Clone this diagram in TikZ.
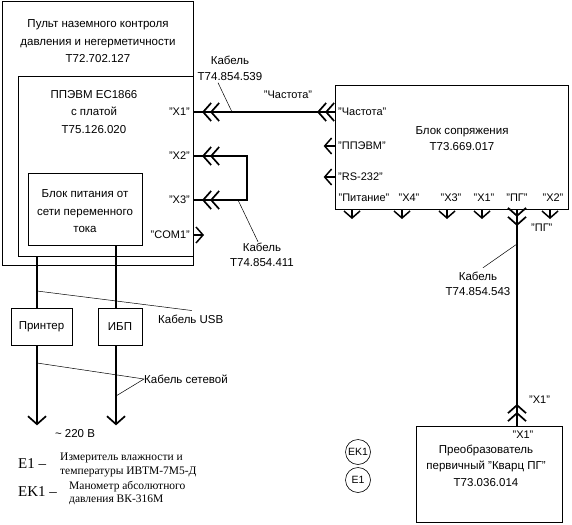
\documentclass[tikz,border=0pt]{standalone}
\usepackage{fontspec}
\setmainfont{Liberation Sans}
\newfontfamily\serifleg{Liberation Serif}
\usetikzlibrary{arrows.meta,positioning,calc,decorations.markings}
\tikzset{
  blok/.style={rectangle, draw=black, line width=0.7pt, inner sep=0pt},
  boxt/.style={align=center, font=\fontsize{11.5}{17.5}\selectfont, inner sep=0pt},
  cabt/.style={align=center, font=\fontsize{11.5}{15.5}\selectfont, inner sep=0pt},
  pinl/.style={font=\fontsize{11}{12}\selectfont, inner sep=1pt},
  cab/.style={line width=1.7pt},
  pinarr/.style={-{Straight Barb[length=7pt,width=16pt,line width=1.5pt]}, line width=1.5pt},
  lead/.style={line width=0.5pt},
  bk/.style={postaction={decorate,decoration={markings,mark=at position #1 with {\arrowreversed{>}}}}},
  fw/.style={postaction={decorate,decoration={markings,mark=at position #1 with {\arrow{>}}}}},
  legE/.style={font=\serifleg\fontsize{15}{16}\selectfont, inner sep=0pt, anchor=west},
  legT/.style={font=\serifleg\fontsize{11.5}{13.5}\selectfont, align=left, inner sep=0pt, anchor=west},
  ring/.style={circle, draw=black, line width=0.6pt, minimum size=25pt, inner sep=0pt, font=\fontsize{10.5}{12}\selectfont},
}

\begin{document}
\begin{tikzpicture}[x=1pt, y=-1pt, >={Straight Barb[length=8pt,width=18pt,line width=1.7pt]}]
\useasboundingbox (0,0) rectangle (572,524);

% boxes
\node[blok, minimum width=191pt, minimum height=264pt] (pult) at (97.5,133) {};
\node[blok, minimum width=175pt, minimum height=180pt] (pc) at (105.5,166) {};
\node[blok, minimum width=114pt, minimum height=72pt] (pwr) at (85,209) {};
\node[blok, minimum width=61pt, minimum height=37pt] (prn) at (41.5,326.5) {};
\node[blok, minimum width=44pt, minimum height=37pt] (ibp) at (120,326.5) {};
\node[blok, minimum width=233pt, minimum height=124pt] (bs) at (451.5,147) {};
\node[blok, minimum width=146pt, minimum height=96pt] (pp) at (489,474) {};

% box texts
\node[boxt] (pultT) at (98,41.5) {Пульт наземного контроля\\давления и негерметичности\\Т72.702.127};
\node[boxt] (pcT) at (94,112) {ППЭВМ ЕС1866\\с платой\\Т75.126.020};
\node[boxt] (pwrT) at (85,211.5) {Блок питания от\\сети переменного\\тока};
\node[boxt] (prnT) at (prn) {Принтер};
\node[boxt] (ibpT) at (ibp) {ИБП};
\node[cabt, font=\fontsize{11.5}{16}\selectfont] (bsT) at (462,139) {Блок сопряжения\\Т73.669.017};
\node[cabt, font=\fontsize{11.5}{16.5}\selectfont] (ppT) at (486,465.5) {Преобразователь\\первичный "Кварц ПГ"\\Т73.036.014};

% pins of the computer
\node[pinl, anchor=east] (pX1) at (191,112) {"Х1"};
\node[pinl, anchor=east] (pX2) at (191,156) {"Х2"};
\node[pinl, anchor=east] (pX3) at (191,200) {"Х3"};
\node[pinl, anchor=east] (pCOM) at (191,235) {"COM1"};

% pins of the interface block
\node[pinl, anchor=west] (bFr) at (337,112) {"Частота"};
\node[pinl, anchor=west] (bPc) at (337,146) {"ППЭВМ"};
\node[pinl, anchor=west] (bRs) at (337,177) {"RS-232"};
\node[pinl] (bPit) at (364,198) {"Питание"};
\node[pinl] (bX4) at (409,198) {"Х4"};
\node[pinl] (bX3) at (451,198) {"Х3"};
\node[pinl] (bX1) at (484,198) {"Х1"};
\node[pinl] (bPG) at (517,198) {"ПГ"};
\node[pinl] (bX2) at (553,198) {"Х2"};

% pins of the transducer
\node[pinl] (tX1in) at (523,435) {"Х1"};
\node[pinl, anchor=west] (tX1out) at (528,400) {"Х1"};
\node[pinl, anchor=west] (cPG) at (530,228) {"ПГ"};

% connection points
\coordinate (x1a) at (193,112);
\coordinate (x1b) at (335,112);
\coordinate (x2a) at (193,156);
\coordinate (x3a) at (193,200);
\coordinate (com) at (193,235);
\coordinate (pgA) at (517,209);
\coordinate (pgB) at (517,426);
\coordinate (usbA) at (37,256);
\coordinate (pwA) at (116,245);

% cables
\draw[cab, bk=9pt, bk=17pt, bk=-10pt, bk=-18pt] (x1a) -- (x1b);
\draw[cab, bk=9pt, bk=17pt, fw=-9pt, fw=-17pt] (x2a) -- ++(54,0) |- (x3a);
\draw[cab, fw=8pt, fw=17pt, bk=-14pt, bk=-22pt] (pgA) -- (pgB);
\draw[pinarr] (com) -- ++(11,0);
\draw[pinarr] (bs.west |- bPc) -- ++(-11,0);
\draw[pinarr] (bs.west |- bRs) -- ++(-11,0);
\foreach \px in {352,402,447,482,550}
  \draw[pinarr] (\px,209) -- ++(0,10);

% peripherals
\draw[cab] (usbA) -- (usbA |- prn.north);
\draw[cab] (pwA) -- (pwA |- ibp.north);
\draw[cab, ->] (usbA |- prn.south) -- ++(0,80);
\draw[cab, ->] (pwA |- ibp.south) -- ++(0,80);
\node[pinl, font=\fontsize{11.5}{12}\selectfont] (v220) at (75,434) {\char"7E\ 220 В};

% cable labels
\node[pinl] (frq) at (288,95) {"Частота"};
\node[cabt] (kab1) at (230,68.5) {Кабель\\Т74.854.539};
\node[cabt] (kab2) at (262,255) {Кабель\\Т74.854.411};
\node[cabt] (kab3) at (478,284) {Кабель\\Т74.854.543};
\node[cabt, anchor=west] (usbL) at (158,319) {Кабель USB};
\node[cabt, anchor=west] (netL) at (144,379) {Кабель сетевой};
\draw[lead] ($(kab1.south)+(-12,2)$) -- (232,112);
\draw[lead] (238,200) -- ($(kab2.north)+(-4,-1)$);
\draw[lead] ($(kab3.north)+(5,-4)$) -- (517,244);
\draw[lead] (37,291) -- ($(usbL.north)+(1,-4)$);
\draw[lead] (37,363) -- (netL.west) -- (116,396);

% designations
\node[ring] (ek1) at (358,452) {EK1};
\node[ring] (e1) at (358,480) {E1};
\node[legE] (legE1) at (18,464) {E1 –};
\node[legT] (legE1t) at (60,465) {Измеритель влажности и\\температуры ИВТМ-7М5-Д};
\node[legE] (legEK1) at (18,492) {EK1 –};
\node[legT] (legEK1t) at (69,493) {Манометр абсолютного\\давления ВК-316М};
\end{tikzpicture}
\end{document}
